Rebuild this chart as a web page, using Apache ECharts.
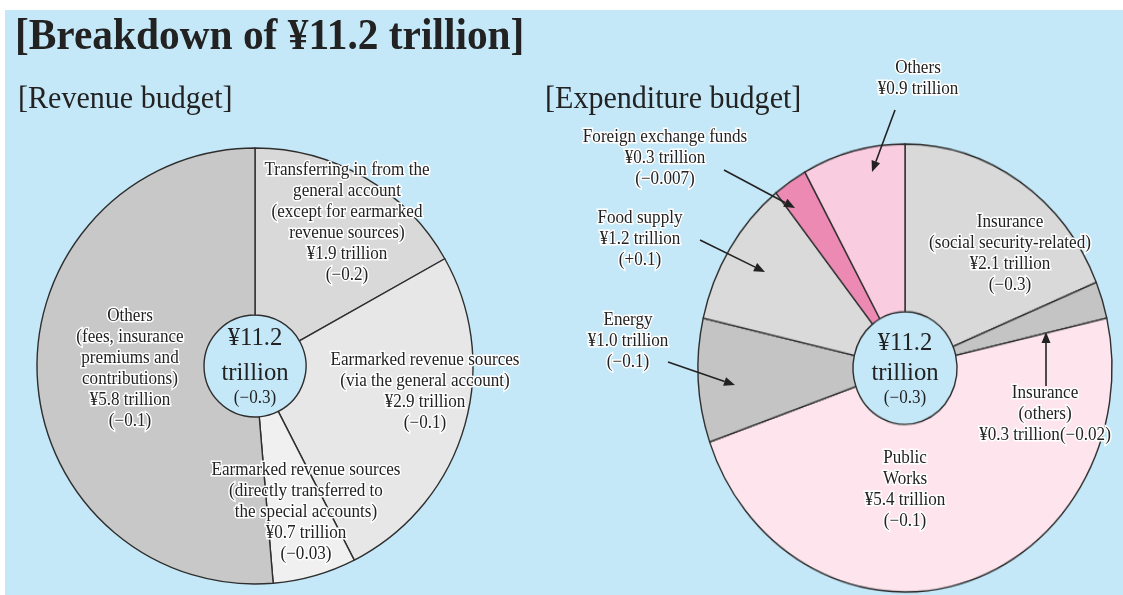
<!DOCTYPE html>
<html><head><meta charset="utf-8">
<script src="https://cdn.jsdelivr.net/npm/echarts@6/dist/echarts.min.js"></script>
<style>
html,body{margin:0;padding:0;background:#fff}
#wrap{position:relative;width:1123px;height:595px;background:#fff;overflow:hidden}
#bg{position:absolute;left:5px;top:10px;right:0;bottom:0;background:#c5e8f8}
#c2{position:absolute;left:0;top:0;width:1123px;height:595px;transform:scaleY(1.082);transform-origin:905px 368px}
#c{position:absolute;left:0;top:0;width:1123px;height:595px}
</style>
</head><body><div id="wrap"><div id="bg"></div><div id="c2"></div><div id="c"></div></div>
<script>
// ---- data ----
const revNames = [
  'Transferring in from the general account (except for earmarked revenue sources)',
  'Earmarked revenue sources (via the general account)',
  'Earmarked revenue sources (directly transferred to the special accounts)',
  'Others (fees, insurance premiums and contributions)'
];
const revValues = [1.9, 2.9, 0.7, 5.8];
const revChanges = ['−0.2', '−0.1', '−0.03', '−0.1'];
const revLabelLines = [
  ['Transferring in from the', 'general account', '(except for earmarked', 'revenue sources)'],
  ['Earmarked revenue sources', '(via the general account)'],
  ['Earmarked revenue sources', '(directly transferred to', 'the special accounts)'],
  ['Others', '(fees, insurance', 'premiums and', 'contributions)']
];

const expNames = [
  'Insurance (social security-related)', 'Insurance (others)', 'Public Works',
  'Energy', 'Food supply', 'Foreign exchange funds', 'Others'
];
const expValues = [2.1, 0.3, 5.4, 1.0, 1.2, 0.3, 0.9];
const expChanges = ['−0.3', '−0.02', '−0.1', '−0.1', '+0.1', '−0.007', null];
const expLabelLines = [
  ['Insurance', '(social security-related)'],
  ['Insurance', '(others)'],
  ['Public', 'Works'],
  ['Energy'],
  ['Food supply'],
  ['Foreign exchange funds'],
  ['Others']
];

const totalValue = 11.2;
const totalChange = '−0.3';

// ---- styles / layout ----
const revColors = ['#d9d9d9', '#e7e7e7', '#f0f0f0', '#c8c8c8'];
const expColors = ['#d9d9d9', '#c4c4c4', '#fde4ed', '#c4c4c4', '#dadada', '#ec8ab4', '#f9cce0'];
const FONT = '"Liberation Serif", "DejaVu Serif", serif';
const LH = 21;

// label layout: [centerX, firstLineY]
const revLabelPos = [[347, 170], [425, 360], [306, 470], [130, 316]];
const expLabelPos = [[1010, 222], [1045, 393], [905, 458], [628, 320], [640, 218], [665, 137], [918, 68]];
const arrows = [
  [895, 110, 872, 172],
  [724, 170, 795, 208],
  [700, 240, 765, 272],
  [668, 362, 735, 385],
  [1046, 386, 1046, 332]
];

function fmt(v) { return '¥' + v.toFixed(1) + ' trillion'; }

const graphics = [];
function text(x, y, t, size, opts) {
  opts = opts || {};
  graphics.push({
    type: 'text', z: 100, x: x, y: y, silent: true, scaleX: opts.sx || 1,
    style: {
      text: t, fill: '#222', font: (opts.weight || 'normal') + ' ' + size + 'px ' + FONT,
      align: opts.align || 'center', verticalAlign: 'middle',
      stroke: opts.halo === false ? null : '#fff', lineWidth: opts.halo === false ? 0 : 3
    }
  });
}
function arrow(x1, y1, x2, y2) {
  const a = Math.atan2(y2 - y1, x2 - x1), L = 11, W = 4.5;
  const c = Math.cos(a), s = Math.sin(a);
  const bx = x2 - L * c, by = y2 - L * s;
  graphics.push({ type: 'line', z: 100, silent: true, shape: { x1: x1, y1: y1, x2: bx, y2: by }, style: { stroke: '#222', lineWidth: 1.6 } });
  graphics.push({ type: 'polygon', z: 100, silent: true, shape: { points: [[x2, y2], [bx - W * s, by + W * c], [bx + W * s, by - W * c]] }, style: { fill: '#222' } });
}

text(15, 38, '[Breakdown of ¥11.2 trillion]', 44, { align: 'left', weight: 'bold', halo: false, sx: 0.94 });
text(18, 100, '[Revenue budget]', 31, { align: 'left', halo: false, sx: 0.97 });
text(545, 100, '[Expenditure budget]', 31, { align: 'left', halo: false, sx: 0.97 });

function labelBlock(pos, lines, v, ch, combine) {
  const all = lines.slice();
  if (combine && ch) all.push(fmt(v) + '(' + ch + ')');
  else {
    all.push(fmt(v));
    if (ch) all.push('(' + ch + ')');
  }
  all.forEach((l, i) => text(pos[0], pos[1] + i * LH, l, 18, { sx: 0.95 }));
}
revLabelLines.forEach((l, i) => labelBlock(revLabelPos[i], l, revValues[i], revChanges[i]));
expLabelLines.forEach((l, i) => labelBlock(expLabelPos[i], l, expValues[i], expChanges[i], i === 1));
arrows.forEach(a => arrow(a[0], a[1], a[2], a[3]));

[[255, 338, 373, 398], [905, 343, 373, 398]].forEach(([cx, y1, y2, y3]) => {
  text(cx, y1, '¥' + totalValue.toFixed(1), 26, { halo: false, sx: 0.95 });
  text(cx, y2, 'trillion', 26, { halo: false, sx: 0.95 });
  text(cx, y3, '(' + totalChange + ')', 18, { halo: false, sx: 0.95 });
});

function pieSeries(names, values, colors, center, r0, r) {
  return {
    type: 'pie', center: center, radius: [r0, r], startAngle: 90, clockwise: true,
    avoidLabelOverlap: false, silent: true, label: { show: false }, labelLine: { show: false },
    emphasis: { disabled: true },
    itemStyle: { borderColor: '#2e2e2e', borderWidth: 1.4 },
    data: names.map((n, i) => ({ name: n, value: values[i], itemStyle: { color: colors[i] } }))
  };
}

// left chart layer (top) with all texts; right pie on a vertically stretched layer beneath
const chart = echarts.init(document.getElementById('c'), null, { renderer: 'canvas' });
chart.setOption({
  animation: false,
  series: [pieSeries(revNames, revValues, revColors, [255, 366], 51, 218)],
  graphic: graphics
});
const chart2 = echarts.init(document.getElementById('c2'), null, { renderer: 'canvas' });
chart2.setOption({
  animation: false,
  series: [pieSeries(expNames, expValues, expColors, [905, 368], 52, 207)]
});
</script></body></html>
